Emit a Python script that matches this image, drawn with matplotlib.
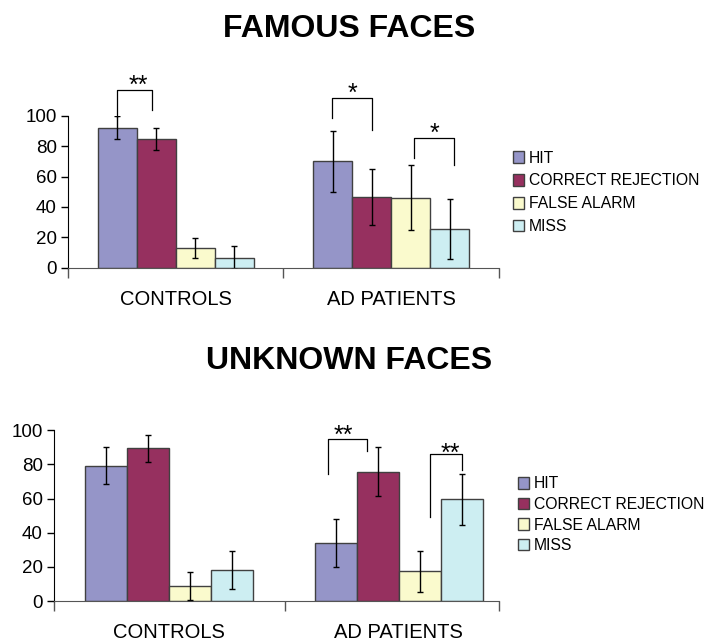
import numpy as np
import matplotlib.pyplot as plt

plt.rcParams['font.family'] = ['Liberation Sans', 'DejaVu Sans']

series = ['HIT', 'CORRECT REJECTION', 'FALSE ALARM', 'MISS']
groups = ['CONTROLS', 'AD PATIENTS']
colors = ['#9595c8', '#96305f', '#fafacd', '#cdeef2']

# famous faces: rows = series, cols = groups
famous_vals = [[92.3, 70.0], [84.8, 46.8], [13.2, 46.2], [6.6, 25.5]]
famous_err = [[7.5, 20.0], [7.0, 18.5], [6.5, 21.6], [7.5, 19.6]]
# unknown faces
unknown_vals = [[79.3, 33.8], [89.5, 75.8], [9.0, 17.3], [18.0, 59.6]]
unknown_err = [[11.0, 14.0], [8.0, 14.2], [8.2, 12.1], [11.0, 14.8]]

yticks = [0, 20, 40, 60, 80, 100]

# significance brackets: (x_left, x_right, y_top, y_left_end, y_right_end, label, label_x, label_y_center)
famous_sig = [(-0.274, -0.11, 117, 99.6, 104, '**', -0.171, 124.8),
              (0.727, 0.912, 111.6, 98.5, 90.8, '*', 0.819, 119.3),
              (1.108, 1.29, 85.7, 72.5, 67.7, '*', 1.2, 93)]
unknown_sig = [(0.693, 0.864, 94.9, 74.4, 87.9, '**', 0.757, 101.2),
               (1.138, 1.275, 86.1, 49.4, 76.8, '**', 1.223, 90.4)]

fig = plt.figure(figsize=(7.12, 6.41), dpi=100)


def draw_panel(rect, vals, errs, sig, width, xlim, mid, title, title_y, leg_anchor, leg_space):
    ax = fig.add_axes(rect)
    x = np.arange(len(groups))
    for i, name in enumerate(series):
        pos = x + (i - 1.5) * width
        ax.bar(pos, vals[i], width, color=colors[i], edgecolor='#404040',
               linewidth=1, label=name, zorder=2)
        ax.errorbar(pos, vals[i], yerr=errs[i], fmt='none', ecolor='black',
                    elinewidth=1, capsize=2.5, capthick=1, zorder=3)
    for xl, xr, yt, yl, yr, lab, lx, ly in sig:
        ax.plot([xl, xl, xr, xr], [yl, yt, yt, yr], color='black', lw=0.9,
                clip_on=False, zorder=4)
        ax.annotate(lab, (lx, ly), xytext=(0, -10.5), textcoords='offset points',
                    ha='center', va='baseline', fontsize=18, annotation_clip=False)
    ax.set_ylim(0, 100)
    ax.set_xlim(*xlim)
    ax.set_yticks(yticks)
    ax.tick_params(axis='y', length=5, width=1, labelsize=13.5, pad=3)
    ax.set_xticks([xlim[0], mid, xlim[1]])
    ax.set_xticklabels(['', '', ''])
    ax.tick_params(axis='x', which='major', length=7, width=1, color='#555555')
    ax.set_xticks(x, minor=True)
    ax.set_xticklabels(groups, minor=True, fontsize=14.5)
    ax.tick_params(axis='x', which='minor', length=0, pad=16)
    ax.spines['top'].set_visible(False)
    ax.spines['right'].set_visible(False)
    ax.spines['bottom'].set_color('#555555')
    ax.spines['left'].set_color('black')
    fig.text(0.49, title_y, title, ha='center', va='center', fontsize=23,
             fontweight='bold')
    ax.legend(loc='upper left', bbox_to_anchor=leg_anchor, bbox_transform=fig.transFigure,
              frameon=False, fontsize=11.3, handlelength=0.75, handleheight=0.75,
              handletextpad=0.3, labelspacing=leg_space, borderaxespad=0, borderpad=0)
    return ax


draw_panel([0.0955, 0.5824, 0.605, 0.2367], famous_vals, famous_err, famous_sig,
           0.181, (-0.5, 1.5), 0.5, 'FAMOUS FACES', 0.955, (0.72, 0.765), 0.5)
draw_panel([0.0758, 0.0624, 0.625, 0.2663], unknown_vals, unknown_err, unknown_sig,
           0.183, (-0.5, 1.436), 0.505, 'UNKNOWN FACES', 0.437, (0.727, 0.257), 0.36)

fig.savefig('out.png', dpi=100)
